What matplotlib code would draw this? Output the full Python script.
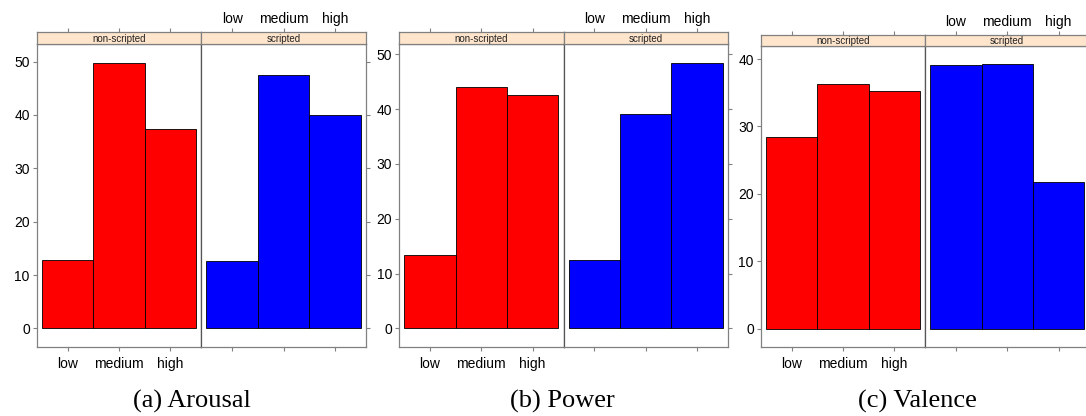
import numpy as np
import matplotlib
matplotlib.use("Agg")
import matplotlib.pyplot as plt

# -----------------------------
# Data (percent per level)
# -----------------------------
levels = ["low", "medium", "high"]
groups = ["non-scripted", "scripted"]
captions = ["(a) Arousal", "(b) Power", "(c) Valence"]

arousal_nonscripted = [12.9, 49.8, 37.3]
arousal_scripted = [12.6, 47.4, 40.0]
power_nonscripted = [13.4, 44.0, 42.6]
power_scripted = [12.4, 39.1, 48.5]
valence_nonscripted = [28.5, 36.3, 35.2]
valence_scripted = [39.1, 39.2, 21.7]

panels = [
    (arousal_nonscripted, arousal_scripted),
    (power_nonscripted, power_scripted),
    (valence_nonscripted, valence_scripted),
]

# -----------------------------
# Layout (pixels)
# -----------------------------
W, H = 1086, 416
panel_x = [(36.7, 201.3, 366.0), (399.0, 563.5, 728.0), (760.7, 925.0, 1089.5)]
strip_top = [32.0, 32.0, 35.0]
strip_bot = [44.0, 44.0, 46.0]
panel_bot = 347.0
caption_x = [192, 562, 917]
caption_y = 401

bar_colors = ["#ff0000", "#0000ff"]
frame_col = "#808080"
strip_col = "#ffe5cc"


def fig_rect(x0, y0, x1, y1):
    return [x0 / W, 1 - y1 / H, (x1 - x0) / W, (y1 - y0) / H]


fig = plt.figure(figsize=(W / 100, H / 100), dpi=100)
plt.rcParams["font.family"] = ["Liberation Sans", "DejaVu Sans"]

x = np.arange(1, len(levels) + 1)

for p, (vals_a, vals_b) in enumerate(panels):
    xl, xm, xr = panel_x[p]
    ymax = max(max(vals_a), max(vals_b))
    pad = 0.07 * ymax
    ylim = (-pad, ymax + pad)

    for g, vals in enumerate((vals_a, vals_b)):
        left = xl if g == 0 else xm
        right = xm if g == 0 else xr

        # main panel
        ax = fig.add_axes(fig_rect(left, strip_bot[p], right, panel_bot))
        ax.bar(x, vals, width=1.0, color=bar_colors[g], edgecolor="black",
               linewidth=0.6)
        ax.set_xlim(0.4, len(levels) + 0.6)
        ax.set_ylim(*ylim)
        for s in ax.spines.values():
            s.set_color(frame_col)
            s.set_linewidth(0.9)
        if g == 0:
            ax.spines["right"].set_color("#555555")
        else:
            ax.spines["left"].set_color("#555555")

        ax.set_xticks(x)
        ax.set_yticks(np.arange(0, ylim[1], 10))
        ax.tick_params(axis="both", colors=frame_col, length=3, width=0.8,
                       labelcolor="black", labelsize=10, pad=2)
        ax.tick_params(axis="x", pad=4)
        ax.tick_params(top=False)
        if g == 0:
            ax.set_xticklabels(levels)
            ax.tick_params(left=True, right=False, labelleft=True)
        else:
            ax.set_xticklabels([])
            ax.tick_params(left=False, right=True, labelleft=False,
                           labelright=False)

        # strip on top
        sx = fig.add_axes(fig_rect(left, strip_top[p], right, strip_bot[p]))
        sx.set_facecolor(strip_col)
        sx.set_xlim(0.4, len(levels) + 0.6)
        sx.set_ylim(0, 1)
        sx.set_yticks([])
        for s in sx.spines.values():
            s.set_color(frame_col)
            s.set_linewidth(0.9)
        sx.xaxis.tick_top()
        sx.set_xticks(x)
        sx.tick_params(axis="x", colors=frame_col, length=3, width=0.8,
                       labelcolor="black", labelsize=10, pad=1)
        if g == 1:
            sx.set_xticklabels(levels)
        else:
            sx.set_xticklabels([])
        sx.text(0.5, 0.45, groups[g], transform=sx.transAxes, ha="center",
                va="center", fontsize=7, color="#222222")

    fig.text(caption_x[p] / W, 1 - caption_y / H, captions[p],
             ha="center", va="center", fontsize=19,
             family=["Liberation Serif", "DejaVu Serif"])

fig.savefig("out.png", dpi=100)
